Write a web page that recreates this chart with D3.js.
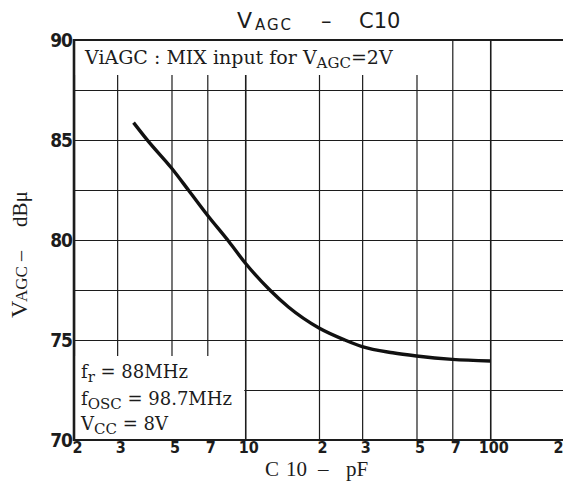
<!DOCTYPE html>
<html>
<head>
<meta charset="utf-8">
<script src="https://cdn.jsdelivr.net/npm/d3@7"></script>
<style>
  html, body { margin: 0; padding: 0; background: #fff; }
  svg { display: block; }
</style>
</head>
<body>
<script>
// ---- data ----
const xTicks = [2, 3, 5, 7, 10, 20, 30, 50, 70, 100, 200];
const xTickLabels = ["2", "3", "5", "7", "10", "2", "3", "5", "7", "100", "2"];
const yTicks = [70, 75, 80, 85, 90];
const yGrid = [70, 72.5, 75, 77.5, 80, 82.5, 85, 87.5, 90];
const capC10 = [3.5, 4.0, 5, 5.9, 7, 8.6, 10, 12.6, 15, 20, 25.5, 30, 40, 50, 70, 100];
const vAGC = [85.87, 84.97, 83.6, 82.45, 81.25, 79.9, 78.85, 77.5, 76.65, 75.6, 75.0, 74.67, 74.36, 74.2, 74.03, 73.95];

const W = 563, H = 481;
const svg = d3.select("body").append("svg").attr("width", W).attr("height", H);
svg.append("rect").attr("width", W).attr("height", H).attr("fill", "#fff");

const x = d3.scaleLog().domain([2, 200]).range([74, 564]);
const y = d3.scaleLinear().domain([70, 90]).range([440, 40]);
const ink = "#1c1c1c";

// vertical grid
const gx = svg.append("g").attr("transform", `translate(0,${y(70)})`)
  .call(d3.axisBottom(x).tickValues(xTicks).tickSize(-(y(70) - y(90))).tickFormat(""));
gx.select(".domain").remove();
gx.selectAll("line").attr("stroke", ink).attr("stroke-width", d => (d === 10 || d === 100) ? 1.6 : 1.2);

// horizontal grid
const gy = svg.append("g").attr("transform", `translate(${x(2)},0)`)
  .call(d3.axisLeft(y).tickValues(yGrid).tickSize(-(x(200) - x(2))).tickFormat(""));
gy.select(".domain").remove();
gy.selectAll("line").attr("stroke", ink).attr("stroke-width", 1.2);

// white label boxes covering grid
svg.append("rect").attr("x", x(2)).attr("y", y(90)).attr("width", 430 - x(2)).attr("height", 75 - y(90)).attr("fill", "#fff");
svg.append("rect").attr("x", x(2)).attr("y", 356).attr("width", x(10) - x(2) - 1).attr("height", y(70) - 356).attr("fill", "#fff");

// frame
svg.append("line").attr("x1", x(2)).attr("x2", x(200)).attr("y1", y(90)).attr("y2", y(90)).attr("stroke", ink).attr("stroke-width", 2);
svg.append("line").attr("x1", x(2)).attr("x2", x(200)).attr("y1", y(70)).attr("y2", y(70)).attr("stroke", ink).attr("stroke-width", 2.2);
svg.append("line").attr("x1", x(2)).attr("x2", x(2)).attr("y1", y(90) - 1).attr("y2", y(70) + 1).attr("stroke", ink).attr("stroke-width", 2.6);

// curve
const pts = capC10.map((c, i) => [c, vAGC[i]]);
svg.append("path").datum(pts)
  .attr("d", d3.line().x(d => x(d[0])).y(d => y(d[1])).curve(d3.curveMonotoneX))
  .attr("fill", "none").attr("stroke", "#111").attr("stroke-width", 3.4).attr("stroke-linecap", "butt");

// tick labels
const ax = svg.append("g").attr("transform", `translate(0,${y(70)})`)
  .call(d3.axisBottom(x).tickValues(xTicks).tickFormat((d, i) => xTickLabels[i]).tickSize(0).tickPadding(2));
ax.select(".domain").remove();
ax.selectAll("text").attr("dx", 3)
  .attr("font-family", "'Liberation Sans Narrow', 'DejaVu Sans Condensed', sans-serif")
  .attr("font-weight", "bold").attr("font-size", 16).attr("fill", ink);
ax.selectAll("text").filter(d => d === 200).attr("dx", 0).attr("x", 0)
  .attr("text-anchor", "end").attr("transform", `translate(${563 - x(200)},0)`);

const ay = svg.append("g").attr("transform", `translate(${x(2) - 1},0)`)
  .call(d3.axisLeft(y).tickValues(yTicks).tickSize(0).tickPadding(1));
ay.select(".domain").remove();
ay.selectAll("text")
  .attr("font-family", "'Liberation Sans Narrow', 'DejaVu Sans Condensed', sans-serif")
  .attr("font-weight", "bold").attr("font-size", 19).attr("letter-spacing", -1).attr("fill", ink);

// title
const t = svg.append("text").attr("font-family", "'DejaVu Sans', sans-serif").attr("fill", ink);
t.append("tspan").attr("x", 237).attr("y", 28).attr("font-size", 22).text("V");
t.append("tspan").attr("x", 255).attr("y", 30).attr("font-size", 15).attr("letter-spacing", 2).text("AGC");
t.append("tspan").attr("x", 321).attr("y", 28).attr("font-size", 21).text("–");
t.append("tspan").attr("x", 359).attr("y", 28).attr("font-size", 21).text("C10");

// top annotation
const a1 = svg.append("text").attr("x", 85).attr("y", 64)
  .attr("font-family", "'DejaVu Serif', serif").attr("font-size", 19).attr("fill", ink);
a1.append("tspan").text("ViAGC : MIX input for V");
a1.append("tspan").attr("font-size", 15).attr("dy", 4).text("AGC");
a1.append("tspan").attr("dy", -4).text("=2V");

// bottom-left annotation
const lines = [
  ["f", "r", " = 88MHz", 378],
  ["f", "OSC", " = 98.7MHz", 405],
  ["V", "CC", " = 8V", 430]
];
lines.forEach(l => {
  const tx = svg.append("text").attr("x", 81).attr("y", l[3])
    .attr("font-family", "'DejaVu Serif', serif").attr("font-size", 18).attr("fill", ink);
  tx.append("tspan").text(l[0]);
  tx.append("tspan").attr("font-size", 15).attr("dy", 4).text(l[1]);
  tx.append("tspan").attr("dy", -4).text(l[2]);
});

// y axis title
const yl = svg.append("text").attr("transform", "translate(27,318) rotate(-90)")
  .attr("font-family", "'Liberation Serif', serif").attr("fill", ink);
yl.append("tspan").attr("x", 0).attr("y", 0).attr("font-size", 24).text("V");
yl.append("tspan").attr("x", 16).attr("y", 0).attr("font-size", 17).text("AGC");
yl.append("tspan").attr("x", 57).attr("y", 0).attr("font-size", 20).text("–");
yl.append("tspan").attr("x", 91).attr("y", 0).attr("font-size", 21).text("dBμ");

// x axis title
const xl = svg.append("text").attr("y", 476)
  .attr("font-family", "'Liberation Serif', serif").attr("font-size", 21).attr("fill", ink);
xl.append("tspan").attr("x", 265).text("C");
xl.append("tspan").attr("x", 286).text("10");
xl.append("tspan").attr("x", 318).text("–");
xl.append("tspan").attr("x", 346).text("pF");
</script>
</body>
</html>
